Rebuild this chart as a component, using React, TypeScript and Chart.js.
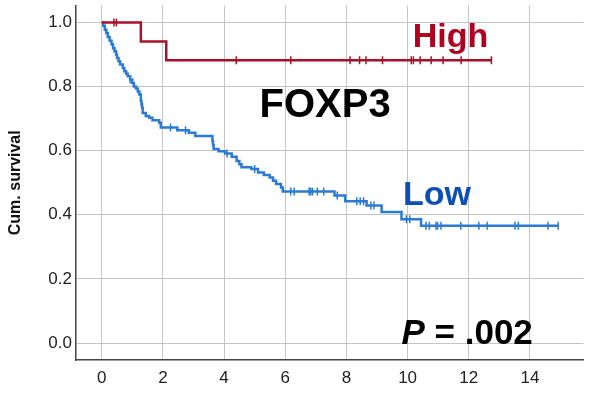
import React, { useEffect, useRef } from "react";
import { Chart, registerables } from "chart.js";

Chart.register(...registerables);

// ---- data ----
const xTicks = [0, 2, 4, 6, 8, 10, 12, 14];
const yTicks = [0, 0.2, 0.4, 0.6, 0.8, 1.0];

const highTimes = [0, 1.28, 2.11];
const highSurv = [1.0, 0.941, 0.882];
const highEnd = 12.74;
const highCensor = [0.4, 0.48, 4.4, 6.18, 8.12, 8.43, 8.64, 9.18, 10.12, 10.19, 10.41, 10.77, 11.16, 11.75, 12.74];

const lowTimes = [
  0, 0.05, 0.1, 0.15, 0.2, 0.26, 0.32, 0.37, 0.42, 0.47, 0.5, 0.55, 0.6, 0.69, 0.74, 0.8, 0.85, 0.93,
  1.0, 1.05, 1.12, 1.18, 1.23, 1.28, 1.3, 1.32, 1.34, 1.44, 1.55, 1.66, 1.88, 1.93, 2.47, 2.85, 3.06,
  3.62, 3.64, 3.66, 3.82, 4.03, 4.25, 4.41, 4.5, 4.57, 4.89, 5.11, 5.3, 5.49, 5.6, 5.7, 5.86, 5.92,
  7.61, 7.96, 8.66, 9.15, 9.8, 10.44,
];
const lowSurv = [
  1.0, 0.99, 0.977, 0.967, 0.955, 0.943, 0.932, 0.92, 0.91, 0.9, 0.889, 0.879, 0.869, 0.858, 0.848, 0.84, 0.832, 0.822,
  0.811, 0.8, 0.794, 0.785, 0.775, 0.755, 0.745, 0.734, 0.718, 0.708, 0.703, 0.695, 0.687, 0.672, 0.664, 0.656, 0.646,
  0.63, 0.617, 0.605, 0.598, 0.591, 0.581, 0.568, 0.558, 0.548, 0.543, 0.532, 0.524, 0.516, 0.506, 0.496, 0.485, 0.473,
  0.46, 0.442, 0.429, 0.409, 0.386, 0.366,
];
const lowEnd = 14.92;
const lowCensor = [
  0.93, 2.25, 2.74, 4.1, 5.0, 6.18, 6.29, 6.78, 6.83, 6.89, 7.05, 7.26, 7.7, 8.34, 8.45, 8.56, 8.8, 8.9,
  9.96, 10.07, 10.6, 10.71, 10.93, 10.98, 11.09, 11.74, 12.33, 12.6, 13.51, 13.62, 14.59, 14.92,
];

const HIGH_LINE = "#a5132b";
const HIGH_TEXT = "#b00020";
const LOW_LINE = "#2b7bd3";
const LOW_TEXT = "#0d4fb2";
const FONT = "'Liberation Sans', Arial, sans-serif";

function stepLine(times: number[], surv: number[], end: number) {
  const pts = times.map((t, i) => ({ x: t, y: surv[i] }));
  pts.push({ x: end, y: surv[surv.length - 1] });
  return pts;
}
function censorPts(times: number[], surv: number[], cens: number[]) {
  return cens.map((c) => {
    let v = surv[0];
    for (let i = 0; i < times.length; i++) if (times[i] <= c) v = surv[i];
    return { x: c, y: v };
  });
}

const labels = [
  { text: "High", x: 10.17, y: 0.925, color: HIGH_TEXT, font: `bold 34px ${FONT}` },
  { text: "FOXP3", x: 5.16, y: 0.705, color: "#000", font: `bold 40px ${FONT}` },
  { text: "Low", x: 9.85, y: 0.431, color: LOW_TEXT, font: `bold 34px ${FONT}` },
];

const textPlugin = {
  id: "texts",
  afterDatasetsDraw(chart: any) {
    const { ctx, scales } = chart;
    ctx.save();
    ctx.textBaseline = "alphabetic";
    ctx.textAlign = "left";
    for (const l of labels) {
      ctx.font = l.font;
      ctx.fillStyle = l.color;
      ctx.fillText(l.text, scales.x.getPixelForValue(l.x), scales.y.getPixelForValue(l.y));
    }
    const px = scales.x.getPixelForValue(9.8);
    const py = scales.y.getPixelForValue(-0.004);
    ctx.fillStyle = "#000";
    ctx.font = `italic bold 35px ${FONT}`;
    ctx.fillText("P", px, py);
    const w = ctx.measureText("P").width;
    ctx.font = `bold 35px ${FONT}`;
    ctx.fillText(" = .002", px + w, py);
    ctx.restore();
  },
};

export default function App() {
  const ref = useRef<HTMLCanvasElement>(null);
  useEffect(() => {
    if (!ref.current) return;
    const chart = new Chart(ref.current, {
      type: "line",
      data: {
        datasets: [
          {
            data: stepLine(highTimes, highSurv, highEnd),
            borderColor: HIGH_LINE,
            borderWidth: 2.5,
            stepped: "before",
            pointRadius: 0,
            fill: false,
          },
          {
            data: stepLine(lowTimes, lowSurv, lowEnd),
            borderColor: LOW_LINE,
            borderWidth: 2.5,
            stepped: "before",
            pointRadius: 0,
            fill: false,
          },
          {
            data: censorPts(highTimes, highSurv, highCensor),
            showLine: false,
            pointStyle: "line",
            rotation: 90,
            pointRadius: 4,
            borderColor: HIGH_LINE,
            borderWidth: 1.5,
          },
          {
            data: censorPts(lowTimes, lowSurv, lowCensor),
            showLine: false,
            pointStyle: "line",
            rotation: 90,
            pointRadius: 4,
            borderColor: LOW_LINE,
            borderWidth: 1.5,
          },
        ] as any,
      },
      options: {
        animation: false,
        responsive: false,
        layout: { padding: { top: 4, right: 0, left: 0, bottom: 0 } },
        plugins: { legend: { display: false }, tooltip: { enabled: false } },
        scales: {
          x: {
            type: "linear",
            min: -0.84,
            max: 15.75,
            afterBuildTicks: (s: any) => {
              s.ticks = xTicks.map((v) => ({ value: v }));
            },
            afterFit: (s: any) => {
              s.height = 34;
              s.paddingLeft = 0;
              s.paddingRight = 0;
            },
            ticks: {
              color: "#222",
              font: { family: FONT, size: 17 },
              padding: 8,
              maxRotation: 0,
              callback: (v: any) => String(v),
            },
            grid: { color: "#c4c4c4", lineWidth: 1, drawTicks: false },
            border: { color: "#444", width: 1.5 },
          },
          y: {
            type: "linear",
            min: -0.053,
            max: 1.053,
            afterBuildTicks: (s: any) => {
              s.ticks = yTicks.map((v) => ({ value: v }));
            },
            afterFit: (s: any) => {
              s.width = 76;
              s.paddingTop = 0;
              s.paddingBottom = 0;
            },
            ticks: {
              color: "#222",
              font: { family: FONT, size: 17 },
              padding: 4,
              callback: (v: any) => Number(v).toFixed(1),
            },
            grid: { color: "#c4c4c4", lineWidth: 1, drawTicks: false },
            border: { color: "#444", width: 1.5 },
            title: {
              display: true,
              text: "Cum. survival",
              color: "#111",
              font: { family: FONT, size: 16, weight: "bold" },
              padding: { top: 6, bottom: 0 },
            },
          },
        },
      },
      plugins: [textPlugin],
    } as any);
    return () => chart.destroy();
  }, []);
  return (
    <div style={{ position: "absolute", left: 0, top: 0, width: 589, height: 394, background: "#fff" }}>
      <canvas ref={ref} width={589} height={394} style={{ display: "block" }} />
    </div>
  );
}
